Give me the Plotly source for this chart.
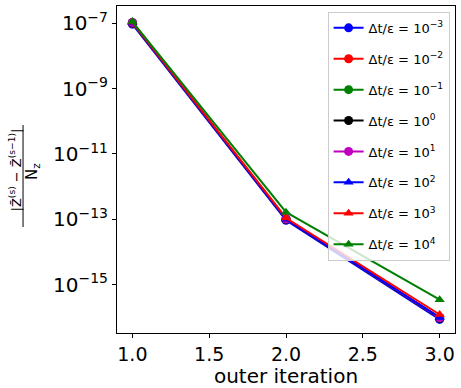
import plotly.graph_objects as go

iterations = [1, 2, 3]
ratio_exponents = [-3, -2, -1, 0, 1, 2, 3, 4]
colors = ["blue", "red", "green", "black", "#bf00bf", "blue", "red", "green"]
symbols = ["circle"] * 5 + ["triangle-up"] * 3

err_m3 = [9.3e-08, 9.3e-14, 8.7e-17]
err_m2 = [1.00e-07, 1.05e-13, 1.00e-16]
err_m1 = [1.02e-07, 1.00e-13, 9.5e-17]
err_0 = [1.03e-07, 1.00e-13, 9.5e-17]
err_1 = [1.05e-07, 1.02e-13, 9.7e-17]
err_2 = [1.05e-07, 1.00e-13, 1.00e-16]
err_3 = [1.08e-07, 1.10e-13, 1.23e-16]
err_4 = [1.12e-07, 1.66e-13, 3.5e-16]
series = [err_m3, err_m2, err_m1, err_0, err_1, err_2, err_3, err_4]

y_tick_exps = [-15, -13, -11, -9, -7]
x_ticks = [1.0, 1.5, 2.0, 2.5, 3.0]

fig = go.Figure()
for i, (e, c, s, ys) in enumerate(zip(ratio_exponents, colors, symbols, series)):
    ex = str(e).replace("-", "−")
    fig.add_trace(go.Scatter(
        x=iterations, y=ys, mode="lines+markers",
        line=dict(color=c, width=2),
        marker=dict(color=c, symbol=s, size=9),
        name=f"Δt/ε = 10<sup>{ex}</sup>",
        legendgroup=f"g{i}",
    ))

font = "DejaVu Sans, sans-serif"
fig.update_layout(
    width=461, height=388,
    margin=dict(l=117, r=6, t=5, b=53),
    paper_bgcolor="white", plot_bgcolor="white",
    font=dict(family=font, color="black"),
    showlegend=True,
    legend=dict(
        x=0.984, y=0.982, xanchor="right", yanchor="top",
        bgcolor="rgba(255,255,255,0.8)", bordercolor="#cccccc", borderwidth=1,
        font=dict(size=13, family=font), tracegroupgap=11,
        itemwidth=30,
    ),
    xaxis=dict(
        range=[0.9, 3.1], tickvals=x_ticks,
        ticktext=[f"{v:.1f}" for v in x_ticks],
        showgrid=False, zeroline=False, showline=True, mirror=True,
        linecolor="black", linewidth=1, ticks="outside", ticklen=4,
        tickcolor="black", tickfont=dict(size=19),
        title=dict(text="outer iteration", font=dict(size=20), standoff=4),
    ),
    yaxis=dict(
        type="log", range=[-16.476, -6.476],
        tickvals=[10.0 ** e for e in y_tick_exps],
        ticktext=["10<sup>" + str(e).replace("-", "−") + "</sup>" for e in y_tick_exps],
        showgrid=False, zeroline=False, showline=True, mirror=True,
        linecolor="black", linewidth=1, ticks="outside", ticklen=4,
        tickcolor="black", tickfont=dict(size=20),
    ),
)

# y-axis label as a stacked fraction
fig.add_annotation(
    text="|Z̄<sup>(s)</sup> − Z̄<sup>(s−1)</sup>|",
    xref="paper", yref="paper", x=-0.302, y=0.5, xanchor="center", yanchor="middle",
    textangle=-90, showarrow=False, font=dict(size=13, family=font),
)
fig.add_shape(type="line", xref="paper", yref="paper",
              x0=-0.278, x1=-0.278, y0=0.324, y1=0.636,
              line=dict(color="black", width=1))
fig.add_annotation(
    text="N<sub>z</sub>",
    xref="paper", yref="paper", x=-0.250, y=0.494, xanchor="center", yanchor="middle",
    textangle=-90, showarrow=False, font=dict(size=15, family=font),
)

fig.write_html("out.html", config={"displayModeBar": False},
               post_script="document.body.style.margin='0';")
